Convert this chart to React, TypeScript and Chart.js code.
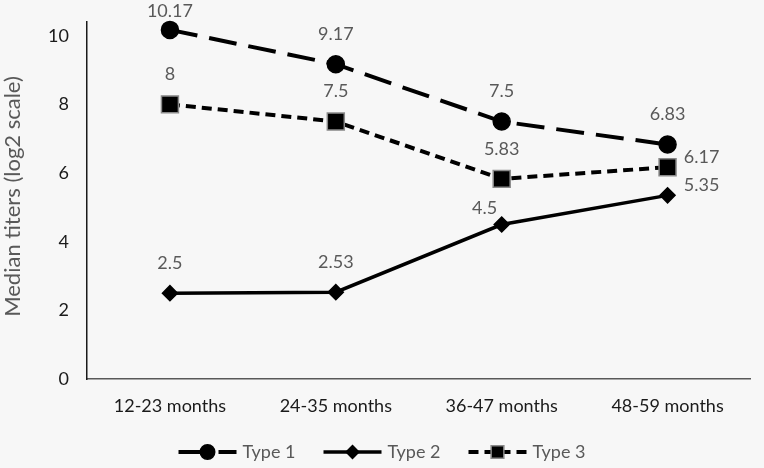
import React, { useEffect, useRef } from 'react';
import { Chart, registerables } from 'chart.js';

Chart.register(...registerables);

const categories = ['12-23 months', '24-35 months', '36-47 months', '48-59 months'];
const seriesNames = ['Type 1', 'Type 2', 'Type 3'];
const type1Values = [10.17, 9.17, 7.5, 6.83];
const type2Values = [2.5, 2.53, 4.5, 5.35];
const type3Values = [8, 7.5, 5.83, 6.17];
const yTickValues = [0, 2, 4, 6, 8, 10];
const yTitle = 'Median titers (log2 scale)';

// where each value label sits relative to its point
const labelPlacement = [
  ['top', 'top', 'top', 'top'],
  ['top', 'top', 'left', 'right'],
  ['top', 'top', 'top', 'right'],
];

const FONT = 'Lato';
const LABEL_GRAY = '#595959';

const markerSpecs = [
  { style: 'circle', radius: 8.5, dash: [28, 12], width: 4, border: '#000' },
  { style: 'rectRot', radius: 7.5, dash: [], width: 3.5, border: '#000' },
  { style: 'rect', radius: 12, dash: [10, 6], width: 4, border: '#8a8a8a' },
];

function drawMarker(ctx: CanvasRenderingContext2D, kind: string, x: number, y: number, r: number, border: string) {
  ctx.save();
  ctx.setLineDash([]);
  ctx.fillStyle = '#000';
  ctx.strokeStyle = border;
  ctx.lineWidth = 1.5;
  ctx.beginPath();
  if (kind === 'circle') {
    ctx.arc(x, y, r, 0, Math.PI * 2);
  } else if (kind === 'rectRot') {
    ctx.moveTo(x, y - r);
    ctx.lineTo(x + r, y);
    ctx.lineTo(x, y + r);
    ctx.lineTo(x - r, y);
    ctx.closePath();
  } else {
    const s = r * Math.SQRT1_2;
    ctx.rect(x - s, y - s, 2 * s, 2 * s);
  }
  ctx.fill();
  ctx.stroke();
  ctx.restore();
}

const decorPlugin = {
  id: 'decor',
  afterDatasetsDraw(chart: any) {
    const ctx: CanvasRenderingContext2D = chart.ctx;
    ctx.save();
    ctx.font = `18px ${FONT}`;
    ctx.fillStyle = LABEL_GRAY;
    ctx.textAlign = 'center';
    ctx.textBaseline = 'middle';
    chart.data.datasets.forEach((ds: any, i: number) => {
      const meta = chart.getDatasetMeta(i);
      meta.data.forEach((pt: any, j: number) => {
        const v = ds.data[j];
        const pos = labelPlacement[i][j];
        let x = pt.x;
        let y = pt.y;
        if (pos === 'top') {
          y -= 30;
        } else if (pos === 'right') {
          x += 34;
          y -= 10;
        } else if (pos === 'left') {
          x -= 17;
          y -= 16;
        }
        y = Math.max(y, 11);
        ctx.fillText(String(v), x, y);
      });
    });
    ctx.restore();
  },
  afterDraw(chart: any) {
    const ctx: CanvasRenderingContext2D = chart.ctx;
    const area = chart.chartArea;
    // y-axis title
    ctx.save();
    ctx.font = `22px ${FONT}`;
    ctx.fillStyle = LABEL_GRAY;
    ctx.textAlign = 'center';
    ctx.textBaseline = 'middle';
    ctx.translate(13, (area.top + area.bottom) / 2 - 4);
    ctx.rotate(-Math.PI / 2);
    ctx.fillText(yTitle, 0, 0);
    ctx.restore();

    // legend
    ctx.save();
    ctx.font = `18px ${FONT}`;
    const symW = 58;
    const gap = 6;
    const itemGap = 28;
    const widths = seriesNames.map((n) => symW + gap + ctx.measureText(n).width);
    const total = widths.reduce((a, b) => a + b, 0) + itemGap * (seriesNames.length - 1);
    let x = chart.width / 2 - total / 2;
    const y = 452;
    seriesNames.forEach((name, i) => {
      const spec = markerSpecs[i];
      ctx.save();
      ctx.strokeStyle = '#000';
      ctx.lineWidth = spec.width;
      ctx.setLineDash(spec.dash);
      ctx.beginPath();
      ctx.moveTo(x, y);
      ctx.lineTo(x + symW, y);
      ctx.stroke();
      ctx.restore();
      drawMarker(ctx, spec.style, x + symW / 2, y, i === 2 ? 9 : spec.radius * 0.85, spec.border);
      ctx.fillStyle = LABEL_GRAY;
      ctx.textAlign = 'left';
      ctx.textBaseline = 'middle';
      ctx.fillText(name, x + symW + gap, y);
      x += widths[i] + itemGap;
    });
    ctx.restore();
  },
};

export default function App() {
  const ref = useRef<HTMLCanvasElement | null>(null);

  useEffect(() => {
    if (!ref.current) return;
    const seriesValues = [type1Values, type2Values, type3Values];
    const chart = new Chart(ref.current, {
      type: 'line',
      data: {
        labels: categories,
        datasets: seriesNames.map((name, i) => ({
          label: name,
          data: seriesValues[i],
          borderColor: '#000',
          borderWidth: markerSpecs[i].width,
          borderDash: markerSpecs[i].dash,
          pointStyle: markerSpecs[i].style as any,
          pointRadius: markerSpecs[i].radius,
          pointBackgroundColor: '#000',
          pointBorderColor: markerSpecs[i].border,
          pointBorderWidth: 1.5,
          fill: false,
          tension: 0,
          clip: false as any,
        })),
      },
      options: {
        animation: false,
        responsive: false,
        layout: { padding: { top: 22, right: 4, left: 0, bottom: 0 } },
        plugins: {
          legend: { display: false },
          tooltip: { enabled: false },
          title: { display: false },
        },
        scales: {
          x: {
            type: 'category',
            offset: true,
            grid: { display: false, drawTicks: false },
            border: { display: true, color: '#595959', width: 1.5 },
            ticks: {
              font: { family: FONT, size: 18 },
              color: '#1a1a1a',
              padding: 16,
              maxRotation: 0,
              autoSkip: false,
            },
            afterFit(scale: any) {
              scale.height = 89;
              scale.paddingLeft = 0;
              scale.paddingRight = 0;
            },
          },
          y: {
            type: 'linear',
            min: 0,
            max: 10.4,
            grid: { display: false, drawTicks: false },
            border: { display: true, color: '#1a1a1a', width: 1.5 },
            ticks: {
              font: { family: FONT, size: 18 },
              color: '#1a1a1a',
              padding: 18,
            },
            afterBuildTicks(scale: any) {
              scale.ticks = yTickValues.map((v) => ({ value: v }));
            },
            afterFit(scale: any) {
              scale.width = 87;
              scale.paddingTop = 0;
              scale.paddingBottom = 0;
            },
          },
        },
      },
      plugins: [decorPlugin],
    });
    return () => chart.destroy();
  }, []);

  return (
    <div
      style={{
        position: 'fixed',
        left: 0,
        top: 0,
        width: 764,
        height: 468,
        background: '#f7f7f7',
      }}
    >
      <canvas ref={ref} width={764} height={468} />
    </div>
  );
}
